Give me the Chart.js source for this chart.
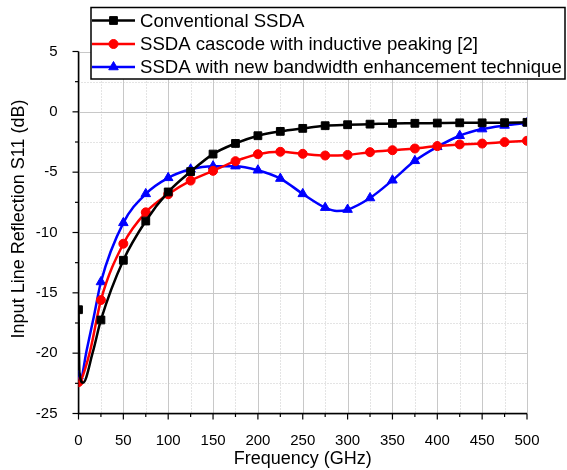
<!DOCTYPE html>
<html>
<head>
<meta charset="utf-8">
<script src="https://cdn.jsdelivr.net/npm/chart.js@4.4.0/dist/chart.umd.min.js"></script>
<style>
  body { margin: 0; background: #fff; }
  canvas { display: block; }
</style>
</head>
<body>
<canvas id="s11Chart" width="567" height="470"></canvas>
<script>
// marker frequencies (GHz)
const freqs = [0, 25, 50, 75, 100, 125, 150, 175, 200, 225, 250, 275, 300, 325, 350, 375, 400, 425, 450, 475, 500];

// S11 (dB) at the marker frequencies
const conventional = [-16.4, -17.25, -12.3, -9.05, -6.64, -4.95, -3.5, -2.62, -1.98, -1.62, -1.37, -1.15, -1.07, -1.02, -0.96, -0.95, -0.93, -0.91, -0.91, -0.9, -0.87];
const cascode = [-22.4, -15.6, -10.93, -8.33, -6.83, -5.7, -4.89, -4.09, -3.51, -3.31, -3.48, -3.62, -3.57, -3.34, -3.18, -3.04, -2.84, -2.7, -2.63, -2.51, -2.4];
const enhanced = [-21.9, -14.1, -9.2, -6.8, -5.47, -4.76, -4.5, -4.5, -4.84, -5.53, -6.8, -7.94, -8.1, -7.14, -5.67, -4.06, -2.9, -1.98, -1.43, -1.13, -0.92];

// extra points read off the curves between markers (no marker drawn)
const convExtraFreqs = [1, 5, 16];
const convExtraValues = [-21.6, -22.45, -19.9];
const cascodeExtraFreqs = [3, 13];
const cascodeExtraValues = [-22.2, -19.8];
const enhancedExtraFreqs = [2, 9, 17, 288];
const enhancedExtraValues = [-22.2, -19.8, -17.0, -8.22];

const seriesNames = ['Conventional SSDA', 'SSDA cascode with inductive peaking [2]', 'SSDA with new bandwidth enhancement technique'];

const FONT = "'Liberation Sans', Arial, sans-serif";

function buildPoints(f, v, ef, ev) {
    const pts = f.map((x, i) => ({x: x, y: v[i]}));
    ef.forEach((x, i) => pts.push({x: x, y: ev[i]}));
    pts.sort((a, b) => a.x - b.x);
    return pts;
}

function markerSize(r) {
    return (c) => (c.raw && c.raw.x % 25 === 0) ? r : 0;
}

const styles = [
    {color: '#000000', pointStyle: 'rect', radius: 5.5},
    {color: '#ff0000', pointStyle: 'circle', radius: 4.5},
    {color: '#0000ff', pointStyle: 'triangle', radius: 5.5}
];

// grid, axis lines and tick marks in the Origin style
const framePlugin = {
    id: 'frame',
    beforeDatasetsDraw(chart) {
        const ctx = chart.ctx;
        const xs = chart.scales.x, ys = chart.scales.y;
        const a = chart.chartArea;
        ctx.save();
        ctx.lineWidth = 1;
        for (let f = 0; f <= 500; f += 25) {
            const px = Math.round(xs.getPixelForValue(f)) + 0.5;
            ctx.strokeStyle = '#c8c8c8';
            ctx.setLineDash(f % 50 === 0 ? [] : [1, 2]);
            ctx.beginPath(); ctx.moveTo(px, a.top); ctx.lineTo(px, a.bottom); ctx.stroke();
        }
        for (let v = -25; v <= 5; v += 2.5) {
            const py = Math.round(ys.getPixelForValue(v)) + 0.5;
            ctx.strokeStyle = '#c8c8c8';
            ctx.setLineDash(v % 5 === 0 ? [] : [1, 2]);
            ctx.beginPath(); ctx.moveTo(a.left, py); ctx.lineTo(a.right, py); ctx.stroke();
        }
        ctx.setLineDash([]);
        ctx.strokeStyle = '#000';
        ctx.lineWidth = 1.5;
        ctx.beginPath();
        ctx.moveTo(a.left, a.top); ctx.lineTo(a.left, a.bottom); ctx.lineTo(a.right, a.bottom);
        ctx.stroke();
        ctx.lineWidth = 1.2;
        for (let f = 0; f <= 500; f += 25) {
            const px = xs.getPixelForValue(f);
            const len = f % 50 === 0 ? 6 : 3.5;
            ctx.beginPath(); ctx.moveTo(px, a.bottom); ctx.lineTo(px, a.bottom + len); ctx.stroke();
        }
        for (let v = -25; v <= 5; v += 2.5) {
            const py = ys.getPixelForValue(v);
            const len = v % 5 === 0 ? 6 : 3.5;
            ctx.beginPath(); ctx.moveTo(a.left, py); ctx.lineTo(a.left - len, py); ctx.stroke();
        }
        ctx.restore();
    },
    afterDraw(chart) {
        const ctx = chart.ctx;
        ctx.save();
        // y axis title
        ctx.translate(19, 219);
        ctx.rotate(-Math.PI / 2);
        ctx.font = '18px ' + FONT;
        ctx.fillStyle = '#000';
        ctx.textAlign = 'center';
        ctx.textBaseline = 'middle';
        ctx.fillText('Input Line Reflection S11 (dB)', 0, 0);
        ctx.restore();

        // legend box
        ctx.save();
        ctx.fillStyle = '#fff';
        ctx.fillRect(91, 7.5, 474, 71.5);
        ctx.strokeStyle = '#000';
        ctx.lineWidth = 1.5;
        ctx.strokeRect(91, 7.5, 474, 71.5);
        const rows = [20.5, 44, 67];
        seriesNames.forEach((name, i) => {
            const st = styles[i];
            const y = rows[i];
            ctx.strokeStyle = st.color;
            ctx.lineWidth = 2.5;
            ctx.beginPath(); ctx.moveTo(92, y); ctx.lineTo(135, y); ctx.stroke();
            ctx.fillStyle = st.color;
            ctx.lineWidth = 1;
            Chart.helpers.drawPoint(ctx, {pointStyle: st.pointStyle, radius: st.radius, borderWidth: 1, rotation: 0}, 113.5, y);
            ctx.fillStyle = '#000';
            ctx.font = '18.6px ' + FONT;
            ctx.textAlign = 'left';
            ctx.textBaseline = 'middle';
            ctx.fillText(name, 140, y + 1);
        });
        ctx.restore();
    }
};

function ShowChart() {
    const ctx = document.getElementById('s11Chart');
    const sets = [
        buildPoints(freqs, conventional, convExtraFreqs, convExtraValues),
        buildPoints(freqs, cascode, cascodeExtraFreqs, cascodeExtraValues),
        buildPoints(freqs, enhanced, enhancedExtraFreqs, enhancedExtraValues)
    ];

    new Chart(ctx, {
        type: 'line',
        data: {
            datasets: sets.map((pts, i) => ({
                label: seriesNames[i],
                data: pts,
                borderColor: styles[i].color,
                backgroundColor: styles[i].color,
                borderWidth: 2.5,
                pointStyle: styles[i].pointStyle,
                pointRadius: markerSize(styles[i].radius),
                pointBorderWidth: 1,
                cubicInterpolationMode: 'monotone',
                fill: false
            }))
        },
        options: {
            responsive: false,
            animation: false,
            devicePixelRatio: 1,
            layout: { padding: { left: 0, right: 40, top: 51.5, bottom: 0 } },
            plugins: {
                legend: { display: false },
                tooltip: { enabled: false }
            },
            scales: {
                x: {
                    type: 'linear',
                    min: 0,
                    max: 500,
                    grid: { display: false },
                    border: { display: false },
                    ticks: {
                        stepSize: 25,
                        autoSkip: false,
                        maxRotation: 0,
                        padding: 10,
                        color: '#000',
                        font: { family: FONT, size: 15 },
                        callback: (v) => v % 50 === 0 ? v : ''
                    },
                    title: {
                        display: true,
                        text: 'Frequency (GHz)',
                        color: '#000',
                        font: { family: FONT, size: 18 },
                        padding: { top: 0, bottom: 0 }
                    },
                    afterFit: (s) => { s.height = 56.5; }
                },
                y: {
                    min: -25,
                    max: 5,
                    grid: { display: false },
                    border: { display: false },
                    ticks: {
                        stepSize: 2.5,
                        autoSkip: false,
                        padding: 13,
                        color: '#000',
                        font: { family: FONT, size: 15 },
                        callback: (v) => v % 5 === 0 ? v : ''
                    },
                    afterFit: (s) => { s.width = 78.5; }
                }
            }
        },
        plugins: [framePlugin]
    });
}

window.addEventListener('load', ShowChart);
</script>
</body>
</html>
